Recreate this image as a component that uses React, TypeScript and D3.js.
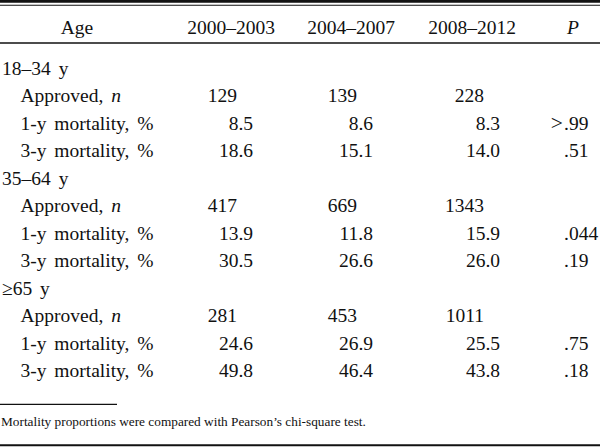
import React from "react";
import * as d3 from "d3";

// table values
const groups = ["18–34 y", "35–64 y", "≥65 y"];
const periods = ["2000–2003", "2004–2007", "2008–2012"];
const approved = [
  [129, 139, 228],
  [417, 669, 1343],
  [281, 453, 1011],
];
const mort1y = [
  [8.5, 8.6, 8.3],
  [13.9, 11.8, 15.9],
  [24.6, 26.9, 25.5],
];
const mort3y = [
  [18.6, 15.1, 14.0],
  [30.5, 26.6, 26.0],
  [49.8, 46.4, 43.8],
];
const p1y = [">.99", ".044", ".75"];
const p3y = [".51", ".19", ".18"];
const footnote = "Mortality proportions were compared with Pearson’s chi-square test.";

const W = 600,
  H = 448;
const font = "'Liberation Serif', 'Times New Roman', serif";
const fs = 19.5;
const ink = "#111";

// layout
const headCenters = [77, 231, 351, 472, 573];
const countRight = [237, 357, 484];
const decRight = [253, 373, 500];
const pDot = 564;

const App = () => {
  const rows = groups.length * 4;
  const y = d3.scaleLinear().domain([0, rows - 1]).range([75, 377]);

  const pCell = (v: string, yy: number, key: string) => {
    const i = v.indexOf(".");
    const pre = v.slice(0, i);
    const rest = v.slice(i);
    return (
      <g key={key}>
        {pre && (
          <text x={pDot - 1} y={yy} textAnchor="end" fontSize={fs + 2}>
            {pre}
          </text>
        )}
        <text x={pDot} y={yy}>
          {rest}
        </text>
      </g>
    );
  };

  return (
    <svg
      width={W}
      height={H}
      style={{ position: "absolute", left: 0, top: 0, background: "#fff" }}
      fontFamily={font}
      fontSize={fs}
      fill={ink}
    >
      <rect width={W} height={H} fill="#fff" />
      {/* rules */}
      <line x1={0} x2={W} y1={1.3} y2={1.3} stroke={ink} strokeWidth={2.7} />
      <line x1={0} x2={W} y1={5.2} y2={5.2} stroke={ink} strokeWidth={1.1} />
      <line x1={0} x2={W} y1={43} y2={43} stroke={ink} strokeWidth={1.3} />

      {/* header */}
      {["Age", ...periods].map((h, i) => (
        <text key={h} x={headCenters[i]} y={34} textAnchor="middle">
          {h}
        </text>
      ))}
      <text x={headCenters[4]} y={34} textAnchor="middle" fontStyle="italic">
        P
      </text>

      {groups.map((g, gi) => {
        const r0 = gi * 4;
        return (
          <g key={g} wordSpacing={3}>
            <text x={2} y={y(r0)}>
              {g}
            </text>
            <text x={20.5} y={y(r0 + 1)}>
              Approved, <tspan fontStyle="italic">n</tspan>
            </text>
            <text x={20.5} y={y(r0 + 2)}>
              1-y mortality, %
            </text>
            <text x={20.5} y={y(r0 + 3)}>
              3-y mortality, %
            </text>
            {periods.map((p, pi) => (
              <g key={p}>
                <text x={countRight[pi]} y={y(r0 + 1)} textAnchor="end">
                  {approved[gi][pi]}
                </text>
                <text x={decRight[pi]} y={y(r0 + 2)} textAnchor="end">
                  {mort1y[gi][pi].toFixed(1)}
                </text>
                <text x={decRight[pi]} y={y(r0 + 3)} textAnchor="end">
                  {mort3y[gi][pi].toFixed(1)}
                </text>
              </g>
            ))}
            {pCell(p1y[gi], y(r0 + 2), "p1")}
            {pCell(p3y[gi], y(r0 + 3), "p3")}
          </g>
        );
      })}

      {/* footnote */}
      <line x1={0} x2={117} y1={404.3} y2={404.3} stroke={ink} strokeWidth={1.2} />
      <text x={1} y={426} fontSize={13.3}>
        {footnote}
      </text>
      <line x1={0} x2={W} y1={445.3} y2={445.3} stroke={ink} strokeWidth={2} />
    </svg>
  );
};

export default App;
